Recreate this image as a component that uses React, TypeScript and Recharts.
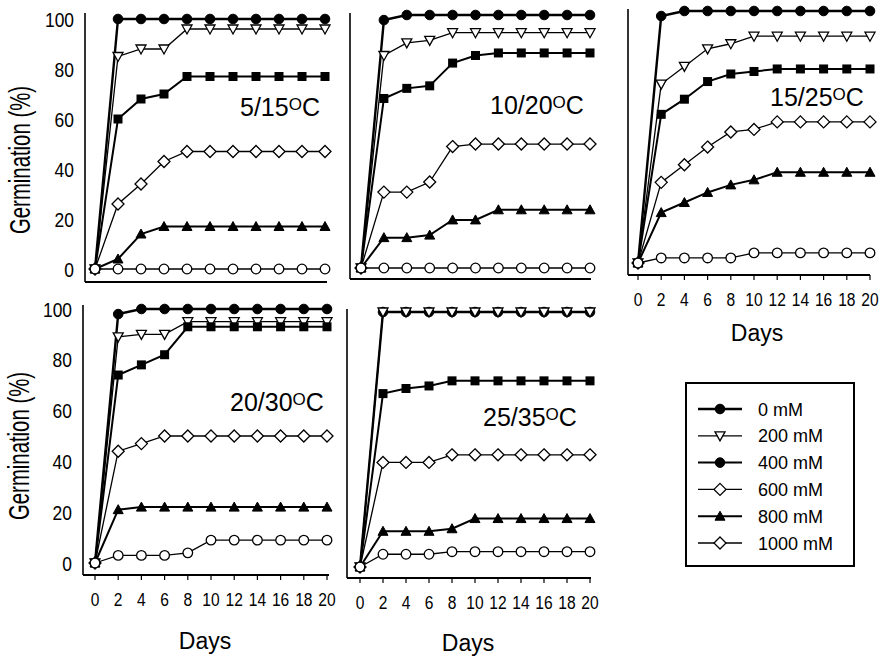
import { LineChart, Line, XAxis, YAxis } from "recharts";

const DAYS = [0, 2, 4, 6, 8, 10, 12, 14, 16, 18, 20];
const Y_TICKS = [0, 20, 40, 60, 80, 100];
const CONCENTRATIONS = ["0 mM", "200 mM", "400 mM", "600 mM", "800 mM", "1000 mM"];
const TEMPS = ["5/15", "10/20", "15/25", "20/30", "25/35"];

// germination (%) by day, one row per concentration (same order as CONCENTRATIONS)
const T5_15 = [
  [0, 100, 100, 100, 100, 100, 100, 100, 100, 100, 100],
  [0, 85, 88, 88, 96, 96, 96, 96, 96, 96, 96],
  [0, 60, 68, 70, 77, 77, 77, 77, 77, 77, 77],
  [0, 26, 34, 43, 47, 47, 47, 47, 47, 47, 47],
  [0, 4, 14, 17, 17, 17, 17, 17, 17, 17, 17],
  [0, 0, 0, 0, 0, 0, 0, 0, 0, 0, 0],
];
const T10_20 = [
  [0, 98, 100, 100, 100, 100, 100, 100, 100, 100, 100],
  [0, 84, 89, 90, 93, 93, 93, 93, 93, 93, 93],
  [0, 67, 71, 72, 81, 84, 85, 85, 85, 85, 85],
  [0, 30, 30, 34, 48, 49, 49, 49, 49, 49, 49],
  [0, 12, 12, 13, 19, 19, 23, 23, 23, 23, 23],
  [0, 0, 0, 0, 0, 0, 0, 0, 0, 0, 0],
];
const T15_25 = [
  [0, 98, 100, 100, 100, 100, 100, 100, 100, 100, 100],
  [0, 71, 78, 85, 87, 90, 90, 90, 90, 90, 90],
  [0, 59, 65, 72, 75, 76, 77, 77, 77, 77, 77],
  [0, 32, 39, 46, 52, 53, 56, 56, 56, 56, 56],
  [0, 20, 24, 28, 31, 33, 36, 36, 36, 36, 36],
  [0, 2, 2, 2, 2, 4, 4, 4, 4, 4, 4],
];
const T20_30 = [
  [0, 98, 100, 100, 100, 100, 100, 100, 100, 100, 100],
  [0, 89, 90, 90, 95, 95, 95, 95, 95, 95, 95],
  [0, 74, 78, 82, 93, 93, 93, 93, 93, 93, 93],
  [0, 44, 47, 50, 50, 50, 50, 50, 50, 50, 50],
  [0, 21, 22, 22, 22, 22, 22, 22, 22, 22, 22],
  [0, 3, 3, 3, 4, 9, 9, 9, 9, 9, 9],
];
const T25_35 = [
  [0, 100, 100, 100, 100, 100, 100, 100, 100, 100, 100],
  [0, 100, 100, 100, 100, 100, 100, 100, 100, 100, 100],
  [0, 68, 70, 71, 73, 73, 73, 73, 73, 73, 73],
  [0, 41, 41, 41, 44, 44, 44, 44, 44, 44, 44],
  [0, 14, 14, 14, 15, 19, 19, 19, 19, 19, 19],
  [0, 5, 5, 5, 6, 6, 6, 6, 6, 6, 6],
];

const FONT = "'Liberation Sans', Arial, Helvetica, sans-serif";

// marker in the plots, marker in the legend, line width
const STYLE = [
  { plot: "circle", legend: "circle", width: 2.4 },
  { plot: "triDown", legend: "triDown", width: 1.3 },
  { plot: "square", legend: "circle", width: 2 },
  { plot: "diamond", legend: "diamond", width: 1.3 },
  { plot: "triUp", legend: "triUp", width: 2 },
  { plot: "openCircle", legend: "diamond", width: 1.3 },
];

const PANELS = [
  {
    temp: TEMPS[0], rows: T5_15,
    box: { left: 0, top: 0, width: 340, height: 300 },
    plot: { x1: 85, x2: 327, y1: 13, y2: 282 },
    xPad: { left: 10, right: 2 }, yPad: { top: 6, bottom: 13 },
    xLabels: false, yLabels: true, tempAt: [240, 116],
  },
  {
    temp: TEMPS[1], rows: T10_20,
    box: { left: 340, top: 0, width: 270, height: 300 },
    plot: { x1: 350, x2: 591, y1: 13, y2: 279 },
    xPad: { left: 11, right: 1 }, yPad: { top: 2, bottom: 11 },
    xLabels: false, yLabels: false, tempAt: [490, 114],
  },
  {
    temp: TEMPS[2], rows: T15_25,
    box: { left: 610, top: 0, width: 274, height: 340 },
    plot: { x1: 628, x2: 870, y1: 9, y2: 275 },
    xPad: { left: 10, right: 0 }, yPad: { top: 2, bottom: 12 },
    xLabels: true, yLabels: false, tempAt: [770, 106],
  },
  {
    temp: TEMPS[3], rows: T20_30,
    box: { left: 0, top: 290, width: 340, height: 373 },
    plot: { x1: 83, x2: 329, y1: 305, y2: 575 },
    xPad: { left: 12, right: 2 }, yPad: { top: 4, bottom: 12 },
    xLabels: true, yLabels: true, tempAt: [230, 411],
  },
  {
    temp: TEMPS[4], rows: T25_35,
    box: { left: 340, top: 290, width: 270, height: 373 },
    plot: { x1: 347, x2: 591, y1: 309, y2: 578 },
    xPad: { left: 13, right: 1 }, yPad: { top: 3, bottom: 11 },
    xLabels: true, yLabels: false, tempAt: [483, 426],
  },
];

function Marker({ shape, cx, cy }: { shape: string; cx: number; cy: number }) {
  if (cx == null || cy == null) return <g />;
  const sw = 1.3;
  switch (shape) {
    case "circle":
      return <circle cx={cx} cy={cy} r={4.8} fill="#000" stroke="#000" />;
    case "openCircle":
      return <circle cx={cx} cy={cy} r={4.8} fill="#fff" stroke="#000" strokeWidth={sw} />;
    case "triDown":
      return (
        <polygon
          points={`${cx - 5},${cy - 4} ${cx + 5},${cy - 4} ${cx},${cy + 5}`}
          fill="#fff" stroke="#000" strokeWidth={sw}
        />
      );
    case "triUp":
      return (
        <polygon
          points={`${cx - 5},${cy + 4} ${cx + 5},${cy + 4} ${cx},${cy - 5}`}
          fill="#000" stroke="#000" strokeWidth={1}
        />
      );
    case "square":
      return <rect x={cx - 4.5} y={cy - 4.5} width={9} height={9} fill="#000" />;
    case "diamond":
      return (
        <polygon
          points={`${cx},${cy - 6} ${cx + 6},${cy} ${cx},${cy + 6} ${cx - 6},${cy}`}
          fill="#fff" stroke="#000" strokeWidth={sw}
        />
      );
  }
  return <g />;
}

function XTick(props: any) {
  const { x, y, payload } = props;
  return (
    <text
      x={0} y={0} dy="0.71em" textAnchor="middle" fontSize={19}
      fontFamily={FONT} fill="#000"
      transform={`translate(${x},${y}) scale(0.82,1)`}
    >
      {payload.value}
    </text>
  );
}

function YTick(props: any) {
  const { x, y, payload } = props;
  return (
    <text
      x={0} y={0} dy="0.36em" textAnchor="end" fontSize={21}
      fontFamily={FONT} fill="#000"
      transform={`translate(${x},${y}) scale(0.83,1)`}
    >
      {payload.value}
    </text>
  );
}

function Panel({ p }: { p: (typeof PANELS)[number] }) {
  const data = DAYS.map((day, i) => {
    const row: Record<string, number> = { day };
    p.rows.forEach((r, k) => (row[`c${k}`] = r[i]));
    return row;
  });
  const margin = {
    top: p.plot.y1 - p.box.top,
    right: p.box.left + p.box.width - p.plot.x2,
    bottom: 0,
    left: 0,
  };
  const xHeight = p.box.top + p.box.height - p.plot.y2;
  const yWidth = p.plot.x1 - p.box.left;

  return (
    <div style={{ position: "absolute", left: p.box.left, top: p.box.top }}>
      <LineChart width={p.box.width} height={p.box.height} data={data} margin={margin}>
        <XAxis
          dataKey="day" type="number" domain={[0, 20]} ticks={DAYS} interval={0}
          padding={p.xPad} height={xHeight}
          axisLine={{ stroke: "#000", strokeWidth: 2 }}
          tickLine={{ stroke: "#000", strokeWidth: 1.2 }}
          tickSize={5} tickMargin={13}
          tick={p.xLabels ? XTick : false}
        />
        <YAxis
          type="number" domain={[0, 100]} ticks={Y_TICKS} interval={0}
          padding={p.yPad} width={yWidth}
          axisLine={{ stroke: "#000", strokeWidth: 1.6 }}
          tickLine={false} tickSize={0} tickMargin={11}
          tick={p.yLabels ? YTick : false}
        />
        {STYLE.map((s, k) => (
          <Line
            key={k}
            dataKey={`c${k}`}
            name={CONCENTRATIONS[k]}
            type="linear"
            stroke="#000"
            strokeWidth={s.width}
            dot={(d: any) => <Marker key={d.index} shape={s.plot} cx={d.cx} cy={d.cy} />}
            activeDot={false}
            isAnimationActive={false}
          />
        ))}
      </LineChart>
    </div>
  );
}

function TempLabel({ text, x, y }: { text: string; x: number; y: number }) {
  return (
    <text x={x} y={y} fontSize={25} fontFamily={FONT} fill="#000">
      {text}
      <tspan fontSize={17} dy={-6}>O</tspan>
      <tspan dy={6}>C</tspan>
    </text>
  );
}

function YTitle({ x, cy }: { x: number; cy: number }) {
  return (
    <text
      transform={`translate(${x},${cy}) rotate(-90)`}
      textAnchor="middle" fontSize={29} fontFamily={FONT} fill="#000"
      textLength={148} lengthAdjust="spacingAndGlyphs"
    >
      Germination (%)
    </text>
  );
}

function DaysTitle({ cx, y }: { cx: number; y: number }) {
  return (
    <text x={cx} y={y} textAnchor="middle" fontSize={23} fontFamily={FONT} fill="#000">
      Days
    </text>
  );
}

function Overlay() {
  const lx = 686, ly = 383, lw = 168, lh = 183;
  return (
    <svg
      width={884} height={663}
      style={{ position: "absolute", left: 0, top: 0, pointerEvents: "none" }}
    >
      {PANELS.map((p, i) => (
        <TempLabel key={i} text={p.temp} x={p.tempAt[0]} y={p.tempAt[1]} />
      ))}
      <YTitle x={30} cy={160} />
      <YTitle x={29} cy={446} />
      <DaysTitle cx={757} y={341} />
      <DaysTitle cx={205} y={649} />
      <DaysTitle cx={468} y={651} />

      <rect x={lx} y={ly} width={lw} height={lh} fill="#fff" stroke="#000" strokeWidth={2} />
      {CONCENTRATIONS.map((c, i) => {
        const y = 409 + i * 26.8;
        return (
          <g key={c}>
            <line x1={698} x2={742} y1={y} y2={y} stroke="#000" strokeWidth={STYLE[i].width} />
            <Marker shape={STYLE[i].legend} cx={720} cy={y} />
            <text x={758} y={y + 6.5} fontSize={18} fontFamily={FONT} fill="#000">
              {c}
            </text>
          </g>
        );
      })}
    </svg>
  );
}

export default function App() {
  return (
    <div
      style={{
        position: "absolute", left: 0, top: 0, width: 884, height: 663,
        background: "#fff", fontFamily: FONT,
      }}
    >
      {PANELS.map((p, i) => (
        <Panel key={i} p={p} />
      ))}
      <Overlay />
    </div>
  );
}
